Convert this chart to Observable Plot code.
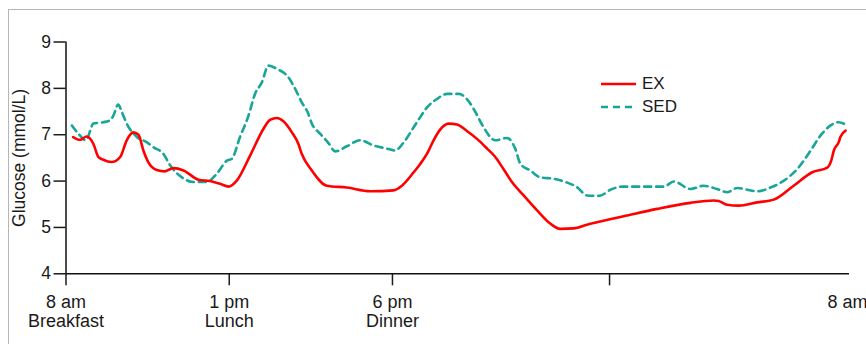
<!DOCTYPE html>
<html><head><meta charset="utf-8">
<script src="https://cdn.jsdelivr.net/npm/d3@7"></script>
<script src="https://cdn.jsdelivr.net/npm/@observablehq/plot@0.6"></script>
<style>
html,body{margin:0;padding:0;background:#fff;}
#wrap{position:relative;width:866px;height:344px;overflow:hidden;}
#frame{position:absolute;left:8px;top:9px;width:900px;height:400px;border-top:1.5px solid #b5b5b5;border-left:1.5px solid #b5b5b5;}
#chart{position:absolute;left:0;top:0;}
#legend{position:absolute;left:601px;top:73px;font:17px "Liberation Sans",Arial,sans-serif;color:#1a1a1a;}
.row{display:flex;align-items:center;height:22.5px;}
.row svg{margin-right:6px;}
</style></head><body>
<div id="wrap"><div id="frame"></div><div id="chart"></div><div id="legend"></div></div>
<script>
// hours after 8 am
const exHours=[0.22,0.43,0.63,0.84,0.99,1.14,1.40,1.66,1.86,2.06,2.22,2.37,2.52,2.78,3.03,3.29,3.60,4.06,4.41,4.72,4.98,5.23,5.64,6.05,6.25,6.46,6.66,6.92,7.12,7.22,7.53,7.99,8.60,9.32,10.03,10.29,10.65,10.85,11.06,11.26,11.46,11.72,11.98,12.28,12.59,12.90,13.15,13.40,13.66,14.02,14.43,14.84,15.14,15.55,15.96,16.37,17.08,18.11,19.13,19.84,19.99,20.25,20.61,21.17,21.68,22.29,22.86,23.32,23.44,23.52,23.67,23.72,23.88];
const exGlucose=[6.95,6.89,6.96,6.80,6.52,6.46,6.41,6.52,6.88,7.05,7.00,6.66,6.41,6.24,6.21,6.28,6.23,6.03,6.00,5.94,5.88,6.01,6.55,7.13,7.32,7.36,7.29,7.05,6.80,6.59,6.23,5.90,5.86,5.78,5.80,5.90,6.19,6.37,6.59,6.88,7.11,7.24,7.22,7.08,6.91,6.70,6.52,6.26,5.98,5.69,5.37,5.08,4.97,4.98,5.06,5.13,5.24,5.40,5.53,5.58,5.57,5.49,5.47,5.54,5.60,5.90,6.19,6.29,6.44,6.66,6.84,6.95,7.09];
const sedHours=[0.18,0.38,0.61,0.84,1.14,1.35,1.45,1.60,1.71,1.86,2.17,2.47,2.68,2.98,3.19,3.55,3.90,4.31,4.62,4.93,5.08,5.33,5.59,5.79,6.00,6.20,6.46,6.81,7.02,7.22,7.40,7.53,7.79,8.04,8.25,8.60,9.01,9.42,9.83,10.08,10.34,10.65,10.85,11.06,11.36,11.67,12.03,12.28,12.54,12.79,13.15,13.51,13.76,13.92,14.22,14.53,14.94,15.30,15.65,15.96,16.32,16.73,17.03,17.59,18.31,18.62,19.13,19.53,19.94,20.25,20.56,21.17,21.58,21.99,22.40,22.81,23.11,23.42,23.67,23.88];
const sedGlucose=[7.20,7.02,6.88,7.24,7.27,7.31,7.41,7.65,7.49,7.24,6.95,6.84,6.73,6.59,6.34,6.08,5.98,5.98,6.16,6.44,6.48,6.95,7.41,7.88,8.13,8.49,8.42,8.24,7.99,7.70,7.49,7.24,7.02,6.82,6.64,6.75,6.88,6.77,6.70,6.66,6.83,7.16,7.38,7.59,7.77,7.88,7.88,7.77,7.49,7.16,6.88,6.93,6.70,6.37,6.23,6.08,6.05,5.98,5.87,5.69,5.68,5.83,5.88,5.88,5.88,5.99,5.83,5.90,5.83,5.76,5.85,5.78,5.86,6.01,6.26,6.66,6.98,7.20,7.27,7.22];
const xTickHours=[0,5,10,16.65,24];
const xTickLabels=["8 am\nBreakfast","1 pm\nLunch","6 pm\nDinner","","8 am"];
const yTicks=[4,5,6,7,8,9];
const seriesNames=["EX","SED"];

const exColor="#ff0000", sedColor="#17a697";
const ex=exHours.map((h,i)=>({h,g:exGlucose[i]}));
const sed=sedHours.map((h,i)=>({h,g:sedGlucose[i]}));
const labelMap=new Map(xTickHours.map((h,i)=>[h,xTickLabels[i]]));
const lastTick=xTickHours[xTickHours.length-1];

const chart=Plot.plot({
  width:866,height:344,
  marginLeft:65.5,marginRight:17,marginTop:41.5,marginBottom:70.7,
  style:{fontFamily:"'Liberation Sans',Arial,sans-serif",fontSize:"17px",color:"#1a1a1a",background:"transparent",overflow:"visible"},
  x:{domain:[0,24]},
  y:{domain:[4,9]},
  marks:[
    Plot.axisY({ticks:yTicks,tickFormat:d=>String(d),tickSize:12,tickPadding:3,strokeWidth:1.5,label:null,fontSize:17.5}),
    Plot.axisY({ticks:[],label:"Glucose (mmol/L)",labelAnchor:"center",labelOffset:53,labelArrow:"none",fontSize:17.5}),
    Plot.axisX({ticks:xTickHours.filter(d=>d!==lastTick),tickFormat:d=>labelMap.get(d),tickSize:12,tickPadding:9.5,strokeWidth:1.5,label:null,lineHeight:1.02,fontSize:18}),
    Plot.axisX({ticks:[lastTick],tickFormat:d=>labelMap.get(d),tickSize:12,tickPadding:9.5,strokeWidth:1.5,label:null,fontSize:18,textAnchor:"end",dx:18}),
    Plot.ruleX([0],{y1:4,y2:9,stroke:"#111",strokeWidth:1.5}),
    Plot.ruleY([4],{x1:0,x2:24,stroke:"#111",strokeWidth:1.5}),
    Plot.line(sed,{x:"h",y:"g",stroke:sedColor,strokeWidth:2.6,strokeDasharray:"7,5",curve:"monotone-x"}),
    Plot.line(ex,{x:"h",y:"g",stroke:exColor,strokeWidth:2.6,curve:"monotone-x"})
  ]
});
document.getElementById("chart").appendChild(chart);

const legend=document.getElementById("legend");
const styles={EX:{color:exColor,dash:null},SED:{color:sedColor,dash:"7,5"}};
for(const name of seriesNames){
  const row=document.createElement("div");row.className="row";
  const s=styles[name];
  row.innerHTML=`<svg width="35" height="6"><line x1="0" y1="3" x2="35" y2="3" stroke="${s.color}" stroke-width="2.6" ${s.dash?`stroke-dasharray="${s.dash}"`:""}/></svg><span>${name}</span>`;
  legend.appendChild(row);
}
</script></body></html>
